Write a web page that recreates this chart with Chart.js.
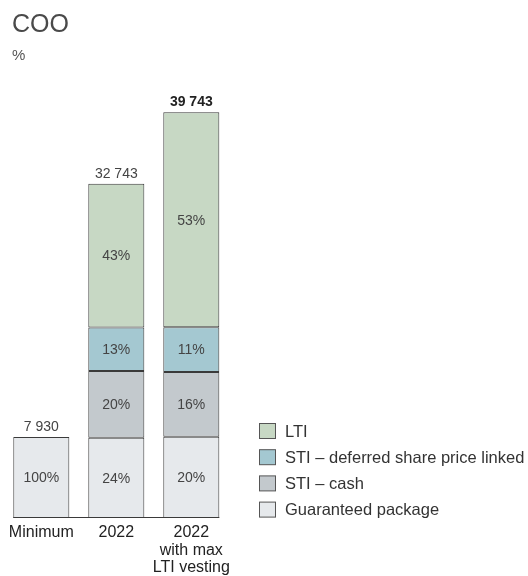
<!DOCTYPE html>
<html>
<head>
<meta charset="utf-8">
<script src="https://cdn.jsdelivr.net/npm/chart.js@4"></script>
<style>
  html, body { margin: 0; padding: 0; background: #fff; }
  #wrap { position: relative; width: 528px; height: 576px; }
</style>
</head>
<body>
<div id="wrap"><canvas id="payChart" width="528" height="576"></canvas></div>
<script>
const categories = ["Minimum", "2022", ["2022", "with max", "LTI vesting"]];
const totals = [7930, 32743, 39743];

// share of each total, in %
const guaranteedPct = [100, 24, 20];
const stiCashPct = [null, 20, 16];
const stiDeferredPct = [null, 13, 11];
const ltiPct = [null, 43, 53];

const seriesNames = ["Guaranteed package", "STI – deferred share price linked", "STI – cash", "LTI"];
const seriesColours = ["#e6e9ec", "#c3c9cd", "#a4c8d1", "#c7d8c4"];

const FONT = "'Liberation Sans', Arial, sans-serif";
const EDGE = "#3a3a3a";

function amounts(pct) {
    return pct.map((p, i) => p == null ? null : totals[i] * p / 100);
}

const stacks = [
    { label: seriesNames[0], pct: guaranteedPct, colour: seriesColours[0] },
    { label: seriesNames[2], pct: stiCashPct, colour: seriesColours[1] },
    { label: seriesNames[1], pct: stiDeferredPct, colour: seriesColours[2] },
    { label: seriesNames[3], pct: ltiPct, colour: seriesColours[3] },
];

// heading, top-left
const headingPlugin = {
    id: "heading",
    beforeDraw(chart) {
        const ctx = chart.ctx;
        ctx.save();
        ctx.fillStyle = "#4a4a4a";
        ctx.textAlign = "left";
        ctx.textBaseline = "alphabetic";
        ctx.font = "300 25px " + FONT;
        ctx.fillText("COO", 12, 32);
        ctx.font = "15px " + FONT;
        ctx.fillStyle = "#555";
        ctx.fillText("%", 12, 60);
        ctx.restore();
    }
};

// percentages inside segments, totals on top, baseline under bars
const labelsPlugin = {
    id: "segmentLabels",
    afterDatasetsDraw(chart) {
        const ctx = chart.ctx;
        ctx.save();
        ctx.textAlign = "center";
        ctx.textBaseline = "middle";
        ctx.font = "14px " + FONT;
        ctx.fillStyle = "#444";
        chart.data.datasets.forEach((ds, di) => {
            const meta = chart.getDatasetMeta(di);
            meta.data.forEach((bar, i) => {
                const p = ds.pct[i];
                if (p == null) return;
                ctx.fillText(p + "%", bar.x, (bar.y + bar.base) / 2 + 1);
            });
        });

        const bottom = chart.getDatasetMeta(0);
        totals.forEach((t, i) => {
            let y = bottom.data[i].y;
            chart.data.datasets.forEach((ds, di) => {
                const el = chart.getDatasetMeta(di).data[i];
                if (ds.data[i] != null) y = Math.min(y, el.y);
            });
            const txt = t.toLocaleString("en-US").replace(",", " ");
            ctx.font = (i === totals.length - 1 ? "bold " : "") + "14px " + FONT;
            ctx.fillStyle = i === totals.length - 1 ? "#222" : "#444";
            ctx.fillText(txt, bottom.data[i].x, y - 10);
        });

        const first = bottom.data[0], last = bottom.data[bottom.data.length - 1];
        const yBase = Math.round(first.base) - 0.5;
        ctx.strokeStyle = EDGE;
        ctx.lineWidth = 1;
        ctx.beginPath();
        ctx.moveTo(first.x - first.width / 2, yBase);
        ctx.lineTo(last.x + last.width / 2, yBase);
        ctx.stroke();
        ctx.restore();
    }
};

// legend on the right, LTI first
const sideLegendPlugin = {
    id: "sideLegend",
    afterDraw(chart) {
        const ctx = chart.ctx;
        const items = chart.data.datasets.slice().reverse();
        ctx.save();
        ctx.font = "16.5px " + FONT;
        ctx.textAlign = "left";
        ctx.textBaseline = "middle";
        items.forEach((ds, k) => {
            const cy = 431 + k * 26.2;
            ctx.fillStyle = ds.backgroundColor;
            ctx.fillRect(259.5, cy - 7.5, 16, 15);
            ctx.strokeStyle = "#555";
            ctx.lineWidth = 1;
            ctx.strokeRect(259.5, cy - 7.5, 16, 15);
            ctx.fillStyle = "#333";
            ctx.fillText(ds.label, 285, cy + 1);
        });
        ctx.restore();
    }
};

new Chart(document.getElementById("payChart"), {
    type: "bar",
    data: {
        labels: categories,
        datasets: stacks.map(s => ({
            label: s.label,
            pct: s.pct,
            data: amounts(s.pct),
            backgroundColor: s.colour,
            borderColor: EDGE,
            borderWidth: 1,
            borderSkipped: false,
            barPercentage: 0.747,
            categoryPercentage: 1,
        })),
    },
    options: {
        responsive: false,
        animation: false,
        layout: {
            padding: { top: 109.6, left: 3.8, right: 299.2, bottom: 0 }
        },
        plugins: {
            legend: { display: false },
            tooltip: { enabled: false },
        },
        scales: {
            x: {
                stacked: true,
                grid: { display: false },
                border: { display: false },
                afterFit(scale) { scale.height = 58; },
                ticks: {
                    color: "#222",
                    padding: -2,
                    maxRotation: 0,
                    autoSkip: false,
                    font: { family: FONT, size: 16, lineHeight: 1.1 },
                },
            },
            y: {
                stacked: true,
                display: false,
                min: 0,
                max: 40000,
            },
        },
    },
    plugins: [headingPlugin, labelsPlugin, sideLegendPlugin],
});
</script>
</body>
</html>
